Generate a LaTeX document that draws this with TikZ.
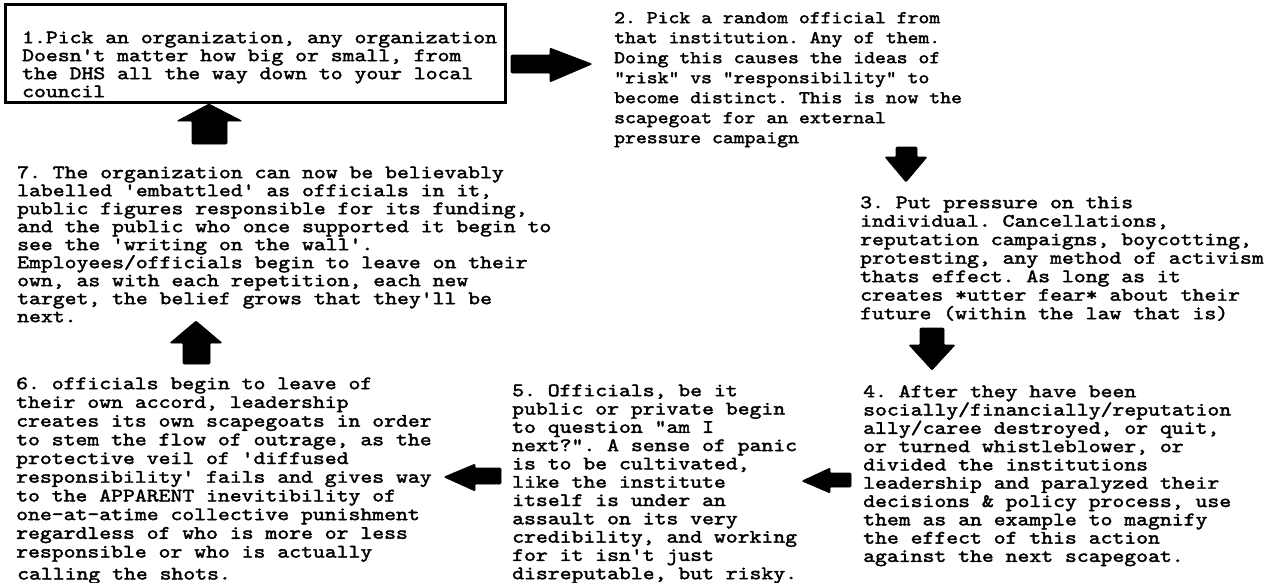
\documentclass[tikz,border=0pt]{standalone}
\usepackage{fontspec}
\newfontfamily\monoA[FakeStretch=1.19,FakeBold=2]{lmmono10-regular.otf}
\newfontfamily\monoB[FakeStretch=1.15,FakeBold=2]{lmmono10-regular.otf}
\tikzset{
  txt/.style={anchor=north west, inner sep=0pt, align=left,
    font={\monoA\fontsize{19}{#1}\selectfont\frenchspacing\lineskiplimit=-30pt}},
  txtsmall/.style={anchor=north west, inner sep=0pt, align=left,
    font={\monoB\fontsize{18}{#1}\selectfont\frenchspacing\lineskiplimit=-30pt}},
  blockarrow/.style={fill=black, draw=black, line width=0.6pt, line join=round, rounded corners=1pt},
  framebox/.style={draw=black, line width=3pt},
}
\newcommand{\fl}{\rule{0pt}{16pt}}
\begin{document}
\begin{tikzpicture}[x=1pt,y=-1pt]
\useasboundingbox[fill=white] (0,0) rectangle (1273,582);
% step 1
\draw[framebox] (5,4) rectangle (505,102);
\node[txt=18] (s1) at (22,27) {\fl 1.Pick an organization, any organization\\
Doesn't matter how big or small, from\\
the DHS all the way down to your local\\
council};
% step 2
\node[txtsmall=20] (s2) at (614,7) {\fl 2. Pick a random official from\\
that institution. Any of them.\\
Doing this causes the ideas of\\
"risk" vs "responsibility" to\\
become distinct. This is now the\\
scapegoat for an external\\
pressure campaign};
% step 3
\node[txt=18.5] (s3) at (860,192) {\fl 3. Put pressure on this\\
individual. Cancellations,\\
reputation campaigns, boycotting,\\
protesting, any method of activism\\
thats effect. As long as it\\
creates *utter fear* about their\\
future (within the law that is)};
% step 4
\node[txt=18.3] (s4) at (863,381) {\fl 4. After they have been\\
socially/financially/reputation\\
ally/caree destroyed, or quit,\\
or turned whistleblower, or\\
divided the institutions\\
leadership and paralyzed their\\
decisions \& policy process, use\\
them as an example to magnify\\
the effect of this action\\
against the next scapegoat.};
% step 5
\node[txt=18.3] (s5) at (512,380) {\fl 5. Officials, be it\\
public or private begin\\
to question "am I\\
next?". A sense of panic\\
is to be cultivated,\\
like the institute\\
itself is under an\\
assault on its very\\
credibility, and working\\
for it isn't just\\
disreputable, but risky.};
% step 6
\node[txt=18.7] (s6) at (16,373) {\fl 6. officials begin to leave of\\
their own accord, leadership\\
creates its own scapegoats in order\\
to stem the flow of outrage, as the\\
protective veil of 'diffused\\
responsibility' fails and gives way\\
to the APPARENT inevitibility of\\
one-at-atime collective punishment\\
regardless of who is more or less\\
responsible or who is actually\\[3.3pt]
\hspace*{1pt}calling the shots.};
% step 7
\node[txt=18] (s7) at (17,162) {\fl 7. The organization can now be believably\\
labelled 'embattled' as officials in it,\\
public figures responsible for its funding,\\
and the public who once supported it begin to\\
see the 'writing on the wall'.\\
Employees/officials begin to leave on their\\
own, as with each repetition, each new\\
target, the belief grows that they'll be\\
next.};
% arrows
\fill[blockarrow] (511,55) -- (550,55) -- (550,48) -- (592,64) -- (550,82) -- (550,73) -- (511,73) -- cycle;
\fill[blockarrow] (896,147) -- (917,147) -- (917,157) -- (927,157) -- (906,182) -- (885,157) -- (896,157) -- cycle;
\fill[blockarrow] (920,328) -- (944,328) -- (944,345) -- (955,345) -- (932,370) -- (909,345) -- (920,345) -- cycle;
\fill[blockarrow] (851,473) -- (830,473) -- (830,468) -- (802,481) -- (830,493) -- (830,487) -- (851,487) -- cycle;
\fill[blockarrow] (501,468) -- (475,468) -- (475,464) -- (444,477) -- (475,491) -- (475,484) -- (501,484) -- cycle;
\fill[blockarrow] (192,144) -- (192,121) -- (177,121) -- (209,104) -- (242,121) -- (227,121) -- (227,144) -- cycle;
\fill[blockarrow] (183,364) -- (183,343) -- (170,343) -- (196,321) -- (222,343) -- (210,343) -- (210,364) -- cycle;
\end{tikzpicture}
\end{document}
